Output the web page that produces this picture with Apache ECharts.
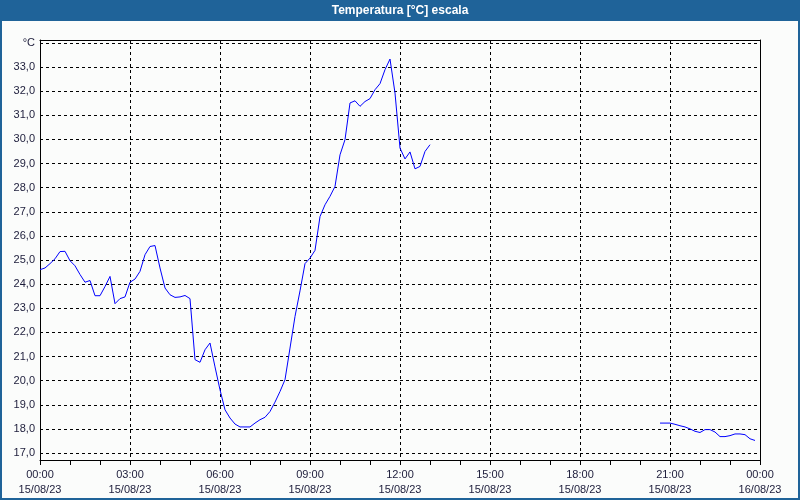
<!DOCTYPE html>
<html>
<head>
<meta charset="utf-8">
<script src="https://cdn.jsdelivr.net/npm/echarts@6/dist/echarts.min.js"></script>
<style>
html,body{margin:0;padding:0;background:#fbfcfb;}
#chart{width:800px;height:500px;}
</style>
</head>
<body>
<div id="chart"></div>
<script>
// Title
var chartTitle = 'Temperatura [°C] escala';
// X axis tick labels (every 3 hours)
var xTickLabels = ['00:00\n15/08/23','03:00\n15/08/23','06:00\n15/08/23','09:00\n15/08/23','12:00\n15/08/23','15:00\n15/08/23','18:00\n15/08/23','21:00\n15/08/23','00:00\n16/08/23'];
// Sampling step in minutes
var stepMinutes = 10;
// Segment 1: starts 00:00 (minute 0)
var seg1Start = 0;
var seg1Values = [24.60,24.67,24.85,25.05,25.35,25.36,24.97,24.76,24.40,24.08,24.15,23.52,
  23.52,23.90,24.32,23.19,23.40,23.47,24.08,24.21,24.53,25.22,25.56,25.60,
  24.67,23.84,23.56,23.45,23.47,23.53,23.40,20.87,20.76,21.28,21.56,20.57,
  19.62,18.79,18.45,18.20,18.08,18.08,18.08,18.24,18.38,18.48,18.72,19.11,
  19.55,20.04,21.35,22.66,23.72,24.85,25.08,25.40,26.80,27.29,27.64,28.05,
  29.36,29.99,31.51,31.60,31.37,31.57,31.69,32.06,32.31,32.89,33.33,31.92,
  29.64,29.19,29.48,28.78,28.88,29.50,29.78];
// Segment 2: starts 20:40 (minute 1240)
var seg2Start = 1240;
var seg2Values = [18.24,18.24,18.24,18.19,18.13,18.08,18.00,17.90,17.85,17.97,17.97,17.87,
  17.68,17.68,17.72,17.79,17.79,17.76,17.59,17.52];

function toPairs(start, vals){
  return vals.map(function(v,i){ return [start + i*stepMinutes, v]; });
}

var FONT = 'Liberation Sans';
var TXT = '#1c1c3a';
var chart = echarts.init(document.getElementById('chart'), null, {renderer:'canvas'});
var option = {
  animation: false,
  backgroundColor: '#fbfcfb',
  graphic: [
    {type:'rect', shape:{x:0,y:0,width:800,height:21}, style:{fill:'#1f6399'}, z:-1},
    {type:'rect', shape:{x:1,y:1,width:798,height:498}, style:{fill:null, stroke:'#1f6399', lineWidth:2}, z:-1},
    {type:'text', x:400, y:10.5, style:{text:chartTitle, fill:'#ffffff', font:'bold 12px "Liberation Sans"', align:'center', verticalAlign:'middle'}}
  ],
  grid: {left:40, right:40, top:40, bottom:40, containLabel:false},
  xAxis: [{
    type:'value', min:0, max:1440, interval:180,
    axisLine:{show:true, lineStyle:{color:'#000', width:1}},
    axisTick:{show:true, length:5, lineStyle:{color:'#000'}},
    minorTick:{show:true, splitNumber:3, length:5, lineStyle:{color:'#000'}},
    splitLine:{show:true, lineStyle:{color:'#000', type:[3,3], width:1}},
    axisLabel:{
      color:TXT, fontFamily:FONT, fontSize:11, lineHeight:15, margin:7,
      formatter:function(v){ var i=Math.round(v/180); return xTickLabels[i]||''; }
    }
  },{
    type:'value', min:0, max:1440, position:'top',
    axisLine:{show:true, onZero:false, lineStyle:{color:'#000'}},
    axisTick:{show:false}, axisLabel:{show:false}, splitLine:{show:false}
  }],
  yAxis: [{
    type:'value', min:16.71, max:34.12, splitNumber:17,
    axisLine:{show:true, onZero:false, lineStyle:{color:'#000'}},
    axisTick:{show:false},
    splitLine:{show:true, lineStyle:{color:'#000', type:[3,3], width:1}},
    axisLabel:{
      color:TXT, fontFamily:FONT, fontSize:11, margin:5,
      formatter:function(v){
        if (Math.abs(v-34)<1e-6) return '°C';
        if (Math.abs(v-Math.round(v))>1e-6) return '';
        return v.toFixed(1).replace('.',',');
      }
    }
  },{
    type:'value', min:16.71, max:34.12, position:'right',
    axisLine:{show:true, onZero:false, lineStyle:{color:'#000'}},
    axisTick:{show:false}, axisLabel:{show:false}, splitLine:{show:false}
  }],
  series: [
    {type:'line', data:toPairs(seg1Start, seg1Values), showSymbol:false, symbol:'none',
     lineStyle:{color:'#0000ff', width:1}, itemStyle:{color:'#0000ff'}},
    {type:'line', data:toPairs(seg2Start, seg2Values), showSymbol:false, symbol:'none',
     lineStyle:{color:'#0000ff', width:1}, itemStyle:{color:'#0000ff'}}
  ]
};
chart.setOption(option);
</script>
</body>
</html>
